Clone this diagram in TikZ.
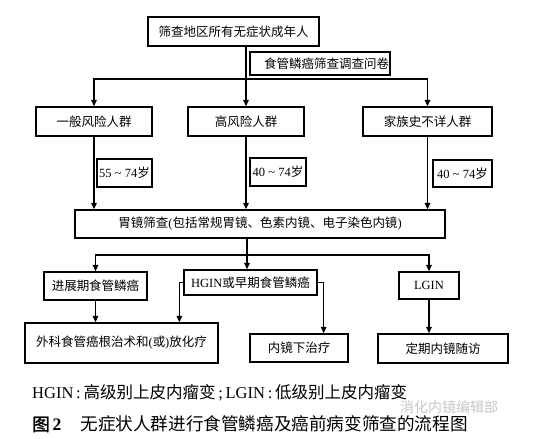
\documentclass[tikz,border=0pt]{standalone}
\usepackage{fontspec}
\setmainfont{Liberation Serif}
\newfontfamily\cjk{Noto Sans CJK SC}
\newfontfamily\cjkb[FakeBold=1.5]{Noto Sans CJK SC}
\usetikzlibrary{arrows.meta,calc}
\begin{document}
\begin{tikzpicture}[x=1pt,y=-1pt,
  bx/.style={draw, line width=1.3pt, inner sep=0pt, font=\fontsize{12.5}{14}\selectfont\cjk},
  agebox/.style={draw, line width=1.3pt, inner sep=0pt, font=\fontsize{12.5}{14}\selectfont\rmfamily},
  arr/.style={line width=1.25pt, -{Triangle[length=6.5pt,width=5.5pt]}},
  ln/.style={line width=1.25pt}]
\fill[white] (0,0) rectangle (560,439);
\useasboundingbox (0,0) rectangle (560,439);
% row 1
\node[bx, minimum width=171pt, minimum height=29pt] (top) at (233.5,31.5) {筛查地区所有无症状成年人};
\node[bx, minimum height=23pt, text width=138pt, align=right, inner xsep=1pt] (quest) at (320,63.5) {食管鳞癌筛查调查问卷};
% row 2
\node[bx, minimum width=116pt, minimum height=29pt] (gen) at (94,121.5) {一般风险人群};
\node[bx, minimum width=116pt, minimum height=29pt] (high) at (246,121.5) {高风险人群};
\node[bx, minimum width=129pt, minimum height=29pt] (fam) at (427.5,121.5) {家族史不详人群};
% age boxes
\node[agebox, minimum width=55pt, minimum height=28pt] (a1) at (124.5,173) {55 \textasciitilde\ 74{\cjk 岁}};
\node[agebox, minimum width=56pt, minimum height=28pt] (a2) at (278,172) {40 \textasciitilde\ 74{\cjk 岁}};
\node[agebox, minimum width=59pt, minimum height=27pt] (a3) at (462.5,173.5) {40 \textasciitilde\ 74{\cjk 岁}};
% endoscopy
\node[bx, minimum width=370pt, minimum height=28pt] (endoscopy) at (260,224) {胃镜筛查{\rmfamily (}包括常规胃镜、色素内镜、电子染色内镜{\rmfamily )}};
% row 4
\node[bx, minimum width=103pt, minimum height=28pt] (adv) at (95.5,286) {进展期食管鳞癌};
\node[bx, minimum width=133pt, minimum height=25pt] (hgin) at (250.5,282.5) {{\rmfamily HGIN}或早期食管鳞癌};
\node[bx, minimum width=60pt, minimum height=27pt] (lgin) at (429,285.5) {{\rmfamily LGIN}};
% row 5
\node[bx, minimum width=193pt, minimum height=40pt] (surg) at (121.5,343) {外科食管癌根治术和{\rmfamily (}或{\rmfamily )}放化疗};
\node[bx, minimum width=98pt, minimum height=28pt] (endo) at (299,348) {内镜下治疗};
\node[bx, minimum width=130pt, minimum height=29pt] (follow) at (443,348.5) {定期内镜随访};
% connectors top
\draw[arr] (top.south -| high.north) -- (high.north);
\coordinate (h1) at (246,79);
\draw[ln] (gen.north |- h1) -- (fam.north |- h1);
\draw[arr] (h1) -| (gen.north);
\draw[arr] (h1) -| (fam.north);
% to endoscopy
\draw[arr] (gen.south) -- (gen.south |- endoscopy.north);
\draw[arr] (high.south) -- (high.south |- endoscopy.north);
\draw[arr] (fam.south) -- (fam.south |- endoscopy.north);
% from endoscopy
\coordinate (h2) at (247,255);
\draw[ln] (endoscopy.south -| h2) -- (h2);
\draw[ln] (adv.north |- h2) -- (lgin.north |- h2);
\draw[arr] (h2) -- (h2 |- hgin.north);
\draw[arr] (h2) -| (adv.north);
\draw[arr] (h2) -| (lgin.north);
% row 4 -> row 5
\draw[arr] (adv.south) -- (adv.south |- surg.north);
\draw[arr] (hgin.west) -- ++(-4,0) coordinate (k1) -- (k1 |- surg.north);
\draw[arr] (hgin.east) -- ++(6,0) coordinate (k2) -- (k2 |- endo.north);
\draw[arr] (lgin.south) -- (lgin.south |- follow.north);
% notes
\node[anchor=west, inner sep=0pt, font=\fontsize{16.5}{18}\selectfont] (note) at (32,393) {HGIN\,:\,{\cjk 高级别上皮内瘤变}\,;\,LGIN\,:\,{\cjk 低级别上皮内瘤变}};
\node[anchor=west, inner sep=0pt, font=\fontsize{17.6}{19}\selectfont] (cap) at (32,424) {{\cjkb 图}\,{\bfseries 2}\hspace{19pt}{\cjk 无症状人群进行食管鳞癌及癌前病变筛查的流程图}};
\node[anchor=west, inner sep=0pt, text=black!22, font=\fontsize{14}{15}\selectfont\cjk] (wm) at (400,407) {消化内镜编辑部};
\end{tikzpicture}
\end{document}
